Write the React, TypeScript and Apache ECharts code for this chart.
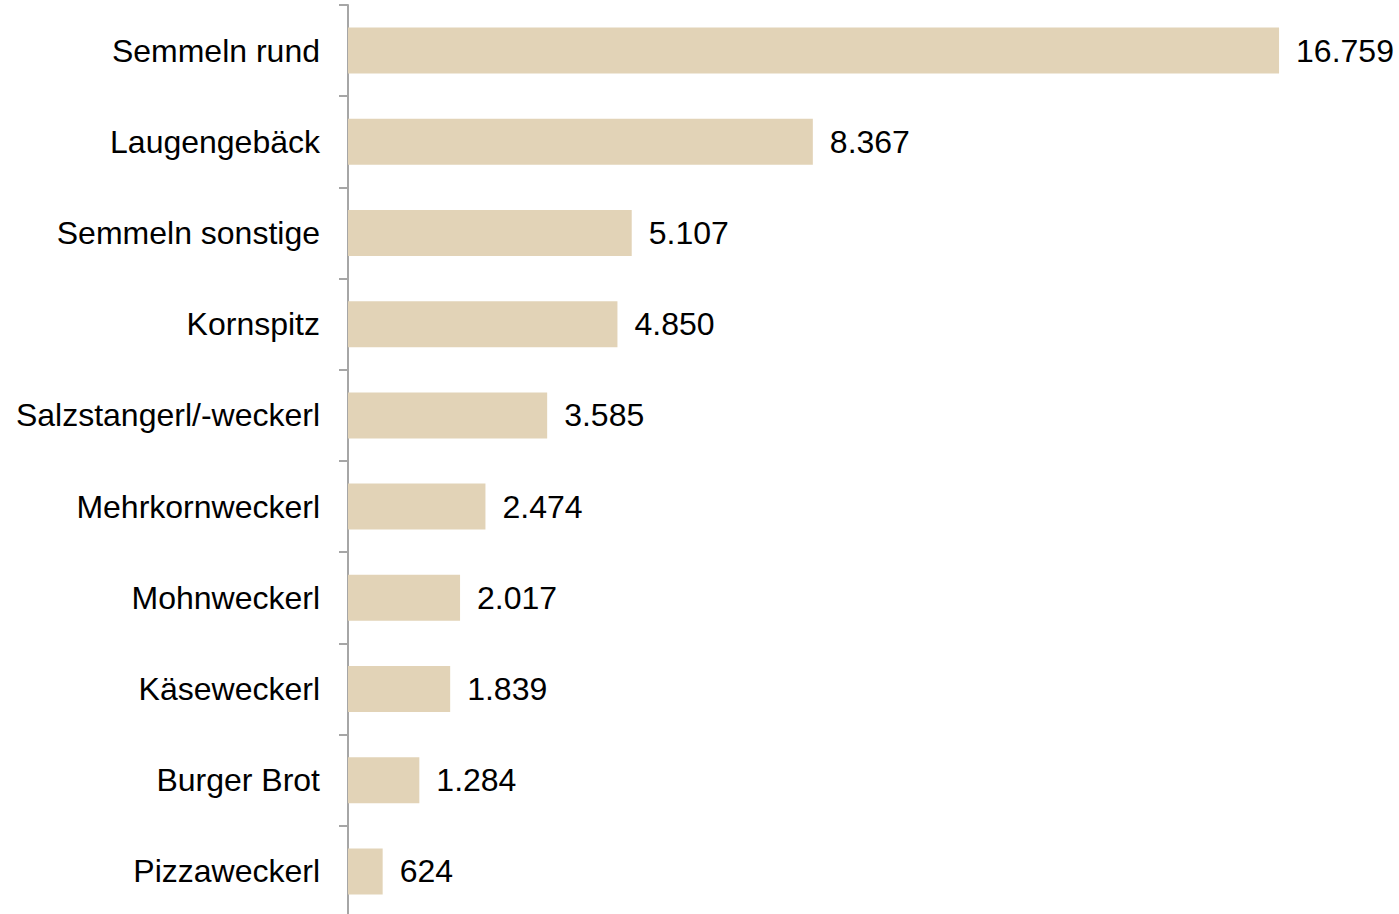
import React, { useEffect, useRef } from "react";
import * as echarts from "echarts";

const categories = [
  "Semmeln rund",
  "Laugengebäck",
  "Semmeln sonstige",
  "Kornspitz",
  "Salzstangerl/-weckerl",
  "Mehrkornweckerl",
  "Mohnweckerl",
  "Käseweckerl",
  "Burger Brot",
  "Pizzaweckerl",
];
const values = [16759, 8367, 5107, 4850, 3585, 2474, 2017, 1839, 1284, 624];

function fmt(v: number): string {
  return String(v).replace(/\B(?=(\d{3})+(?!\d))/g, ".");
}

export default function App() {
  const ref = useRef<HTMLDivElement>(null);
  useEffect(() => {
    const chart = echarts.init(ref.current!, undefined, { renderer: "svg" });
    chart.setOption({
      animation: false,
      grid: { left: 348, top: 5, height: 912, width: 1000 },
      xAxis: {
        type: "value",
        min: 0,
        max: 18000,
        show: false,
      },
      yAxis: {
        type: "category",
        data: categories,
        inverse: true,
        axisLine: { show: true, lineStyle: { color: "#a6a6a6", width: 2 } },
        axisTick: { show: true, length: 9, lineStyle: { color: "#a6a6a6", width: 2 } },
        axisLabel: {
          margin: 28,
          color: "#000",
          fontSize: 32,
          fontFamily: "Liberation Sans, Arial, sans-serif",
        },
        splitLine: { show: false },
      },
      series: [
        {
          type: "bar",
          data: values,
          barWidth: 46,
          itemStyle: { color: "#e2d3b7" },
          label: {
            show: true,
            position: "right",
            distance: 17,
            color: "#000",
            fontSize: 32,
            fontFamily: "Liberation Sans, Arial, sans-serif",
            formatter: (p: any) => fmt(p.value),
          },
        },
      ],
    });
    return () => chart.dispose();
  }, []);
  return (
    <div
      ref={ref}
      style={{ position: "fixed", left: 0, top: 0, width: 1399, height: 920, background: "#fff" }}
    />
  );
}
